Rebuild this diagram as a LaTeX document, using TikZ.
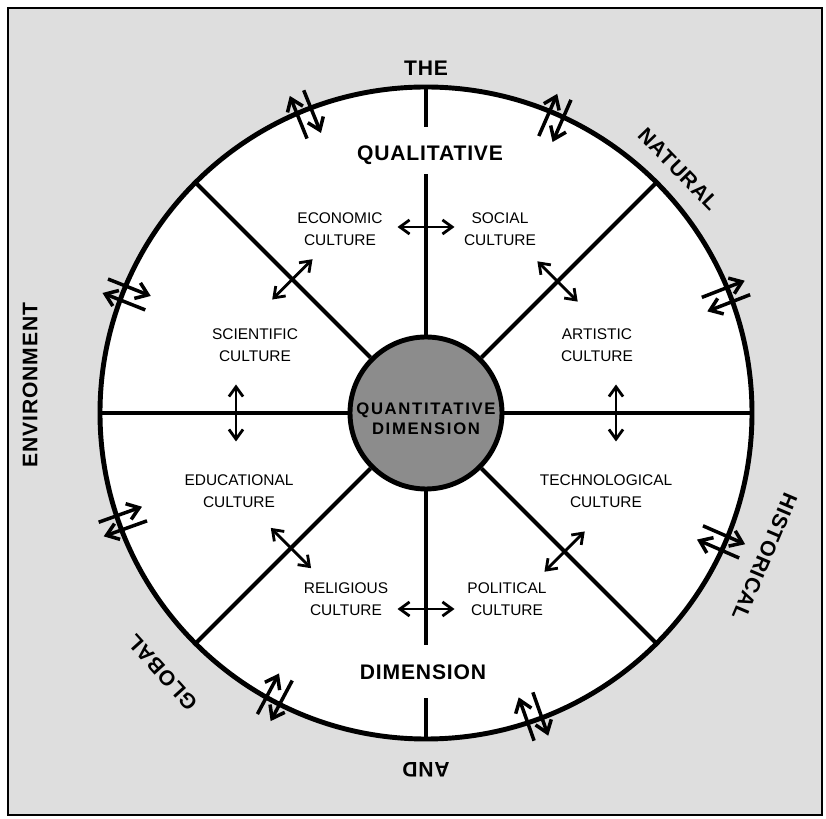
\documentclass[tikz,border=0pt]{standalone}
\usepackage{fontspec}
\setmainfont{Liberation Sans}
\newfontfamily\widefont[LetterSpace=4]{Liberation Sans}
\newfontfamily\hubfont[LetterSpace=10]{Liberation Sans}
\usetikzlibrary{arrows.meta, calc}

\begin{document}
\begin{tikzpicture}[
    rim/.style={line width=2.8pt},
    spoke/.style={line width=2.4pt},
    hub/.style={circle, draw, line width=2.8pt, fill=black!45,
                minimum size=3.04cm, inner sep=0pt},
    hubtxt/.style={font=\hubfont\fontsize{9.5}{11.4}\selectfont\bfseries,
                   align=center},
    cult/.style={font=\fontsize{8.8}{12.5}\selectfont, align=center},
    big/.style={font=\widefont\fontsize{12}{14}\selectfont\bfseries},
    xarr/.style={{Straight Barb[length=5.5pt,width=8pt]}-{Straight Barb[length=5.5pt,width=8pt]},
                 line width=1.6pt},
    rarr/.style={-{Straight Barb[length=6.5pt,width=9.5pt]}, line width=2pt},
]

% Radii
\def\rout{6.52}
\def\rlo{5.98}
\def\rhi{6.9}
\def\gap{0.15}

\useasboundingbox (-8.52,-8.12) rectangle (8.0,8.26);

% --- Frame and wheel ---
\draw[line width=1pt, fill=black!13] (-8.36,-8.04) rectangle (7.92,8.10);
\draw[rim, fill=white] (0,0) circle (\rout);

\node[hub] (hub) at (0,0) {};
\node[hubtxt] (quant) at (0,-0.12) {QUANTITATIVE\\DIMENSION};

% --- Spokes ---
\foreach \a in {0,45,135,180,225,315} {
  \coordinate (rim\a) at (\a:\rout);
  \draw[spoke] (hub.\a) -- (rim\a);
}
\coordinate (topend)  at (0,4.78);
\coordinate (toptick) at (0,5.72);
\coordinate (rim90)   at (90:\rout);
\coordinate (botend)  at (0,-4.64);
\coordinate (bottick) at (0,-5.7);
\coordinate (rim270)  at (270:\rout);
\draw[spoke] (hub.90) -- (topend);
\draw[spoke] (toptick) -- (rim90);
\draw[spoke] (hub.270) -- (botend);
\draw[spoke] (bottick) -- (rim270);

% --- Cultures ---
\node[cult] (econ)   at (-1.72, 3.68) {ECONOMIC\\CULTURE};
\node[cult] (social) at ( 1.48, 3.68) {SOCIAL\\CULTURE};
\node[cult] (sci)    at (-3.42, 1.36) {SCIENTIFIC\\CULTURE};
\node[cult] (art)    at ( 3.42, 1.36) {ARTISTIC\\CULTURE};
\node[cult] (edu)    at (-3.74,-1.56) {EDUCATIONAL\\CULTURE};
\node[cult] (tech)   at ( 3.60,-1.56) {TECHNOLOGICAL\\CULTURE};
\node[cult] (rel)    at (-1.60,-3.72) {RELIGIOUS\\CULTURE};
\node[cult] (pol)    at ( 1.62,-3.72) {POLITICAL\\CULTURE};

% Exchanges across the spokes
\foreach \a/\r in {0/3.8, 45/3.72, 90/3.72, 135/3.78,
                   180/3.8, 225/3.82, 270/3.92, 315/3.92} {
  \coordinate (xa\a) at ($(\a:\r)+(\a+90:0.57)$);
  \coordinate (xb\a) at ($(\a:\r)+(\a-90:0.57)$);
  \draw[xarr] (xa\a) -- (xb\a);
}

% Exchanges across the rim (out on the ccw side, in on the cw side)
\foreach \a [count=\i] in {112,66.4,21.3,-23.6,-70.5,-118,-160.3,158.4} {
  \coordinate (po\i) at ($(\a:\rlo)+(\a+90:\gap)$);
  \coordinate (pi\i) at ($(\a:\rhi)+(\a+90:\gap)$);
  \coordinate (qo\i) at ($(\a:\rlo)+(\a-90:\gap)$);
  \coordinate (qi\i) at ($(\a:\rhi)+(\a-90:\gap)$);
  \draw[rarr] (po\i) -- (pi\i);
  \draw[rarr] (qi\i) -- (qo\i);
}

% --- Dimension labels ---
\node[big] (qual) at (0.08, 5.16) {QUALITATIVE};
\node[big] (dim)  at (-0.06,-5.18) {DIMENSION};

% --- Environment round the rim ---
\node[big] (the) at (90:6.9) {THE};
\node[big, rotate=-46]  (natural)    at (44:7.02)    {NATURAL};
\node[big, rotate=-113] (historical) at (-23:7.36)   {HISTORICAL};
\node[big, rotate=180]  (and)        at (270:7.14)   {AND};
\node[big, rotate=132]  (global)     at (224.5:7.4)  {GLOBAL};
\node[big, rotate=90]   (environment) at (-7.92,0.56) {ENVIRONMENT};

\end{tikzpicture}
\end{document}
